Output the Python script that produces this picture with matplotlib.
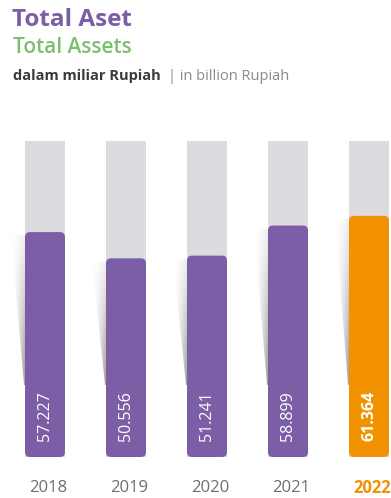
import numpy as np
import matplotlib
matplotlib.use("Agg")
import matplotlib.pyplot as plt
from matplotlib.patches import FancyBboxPatch, Polygon

plt.rcParams['font.family'] = ['Open Sans', 'DejaVu Sans']

years = ['2018', '2019', '2020', '2021', '2022']
values = [57.227, 50.556, 51.241, 58.899, 61.364]
labels = ['57.227', '50.556', '51.241', '58.899', '61.364']
bg_max = 80.4

purple = '#7B5EA5'
orange = '#F39200'
green = '#7DBF6E'
track = '#DCDBDF'

W, H = 391, 498
fig = plt.figure(figsize=(W / 100, H / 100), dpi=100)
ax = fig.add_axes([0, 0, 1, 1])
ax.set_axis_off()

# pixel layout: bar centres at 45 + 81*i, zero line at y=457, 3.93 px per unit
step, x0, base, ppu = 81.0, 45.0, 457.0, 3.93
ax.set_xlim(-x0 / step, (W - x0) / step)
ax.set_ylim(-(H - base) / ppu, base / ppu)

bw = 40 / step
r = 5 / step
aspect = step / ppu

# shadow gradient: lighter on the left and at the top
fx = np.linspace(0, 1, 60)[None, :]
fy = np.linspace(0.15, 1, 120)[:, None]
shade = 1 - 0.38 * (fx ** 1.5) * fy
grad = np.dstack([shade, shade, shade])

for i, v in enumerate(values):
    last = i == len(values) - 1
    col = orange if last else purple
    left = i - bw / 2
    # grey track
    ax.add_patch(plt.Rectangle((left, 0), bw, bg_max, color=track, lw=0, zorder=1))
    # soft shadow wedge left of the bar
    top = v - 3 / ppu
    tip = 72 / ppu
    sw = 14 / step
    sh = Polygon([(left - sw, top), (left, top), (left, tip), (left - 1 / step, tip)],
                 closed=True, fc='none', ec='none')
    ax.add_patch(sh)
    im = ax.imshow(grad, aspect='auto', extent=(left - sw, left, tip, top),
                   origin='upper', zorder=1.5, interpolation='bilinear')
    im.set_clip_path(sh)
    # value bar
    ax.add_patch(FancyBboxPatch((left, 0), bw, v,
                                boxstyle=f"round,pad=0,rounding_size={r}",
                                mutation_aspect=aspect, fc=col, ec='none', zorder=2))
    ax.text(i, 41 / ppu, labels[i], rotation=90, ha='center', va='center',
            color='white', fontsize=11.5, fontweight='bold' if last else 'normal', zorder=3)
    ax.text(i + 3 / step, -(488 - base) / ppu, years[i], ha='center', va='center',
            color=orange if last else '#6E6E6E', fontsize=12,
            fontweight='bold' if last else 'normal')

fig.text(12 / W, 1 - 26 / H, 'Total Aset', color=purple, fontsize=17.5,
         fontweight='bold', ha='left', va='baseline')
fig.text(13 / W, 1 - 53 / H, 'Total Assets', color=green, fontsize=15,
         fontweight='semibold', ha='left', va='baseline')
t1 = fig.text(13 / W, 1 - 80 / H, 'dalam miliar Rupiah', color='#3A3A3A', fontsize=10.5,
              fontweight='bold', ha='left', va='baseline')
fig.canvas.draw()
bb = t1.get_window_extent()
fig.text((bb.x1 + 7) / W, 1 - 80 / H, '| in billion Rupiah', color='#8A8A8A',
         fontsize=10.5, ha='left', va='baseline')

fig.savefig('out.png', dpi=100)
